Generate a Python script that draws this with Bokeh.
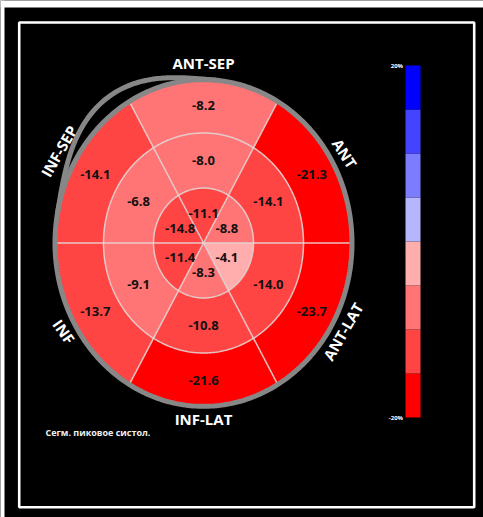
import numpy as np
from bokeh.plotting import figure
from bokeh.models import Range1d, ColumnDataSource
from bokeh.transform import linear_cmap
from bokeh.core.properties import value
from bokeh.embed import file_html
from bokeh.resources import INLINE

# ---------------- data ----------------
sectors = ["ANT-SEP", "ANT", "ANT-LAT", "INF-LAT", "INF", "INF-SEP"]
basal = [-8.2, -21.3, -23.7, -21.6, -13.7, -14.1]
mid = [-8.0, -14.1, -14.0, -10.8, -9.1, -6.8]
apical = [-11.1, -8.8, -4.1, -8.3, -11.4, -14.8]
cb_edges = [-20, -15, -10, -5, 0, 5, 10, 15, 20]
cb_ticks = [20, -20]
cb_tick_labels = ["20%", "-20%"]
palette = ["#ff0000", "#ff4444", "#ff7474", "#ffadad",
           "#b6b6ff", "#7c7cff", "#4444ff", "#0000ff"]
caption = "Сегм. пиковое систол."

# ---------------- figure ----------------
W, H = 483, 517
p = figure(width=W, height=H, x_range=Range1d(0, W), y_range=Range1d(H, 0),
           output_backend="svg", toolbar_location=None,
           x_axis_location=None, y_axis_location=None, min_border=0)
p.background_fill_color = "black"
p.border_fill_color = "black"
p.outline_line_color = None
p.grid.visible = False

# colorbar value scale
p.extra_y_ranges = {"cb": Range1d(start=(241 - H) / 8.8, end=241 / 8.8)}

# white page edges (top / left) and inner white frame
p.quad(left=[0, 0], right=[W, 4], top=[0, 0], bottom=[7, H],
       fill_color="white", line_color=None)
p.quad(left=[18.7], right=[473.7], top=[22], bottom=[506.7],
       fill_color=None, line_color="white", line_width=2.6)

# ---------------- bull's eye geometry ----------------
cx, cy, k = 203.0, 242.5, 1.1
ring_r = [0, 50, 100, 147]
centers = [90, 30, -30, -90, -150, 150]
label_r = [27, 75, 125]


def pt(r, deg):
    t = np.radians(deg)
    return cx + r * np.cos(t), cy - k * r * np.sin(t)


rings = [apical, mid, basal]
xs, ys, vals = [], [], []
for ri, ring_vals in enumerate(rings):
    r0, r1 = ring_r[ri], ring_r[ri + 1]
    for c, v in zip(centers, ring_vals):
        a = np.linspace(c - 30, c + 30, 60)
        ox, oy = pt(r1, a)
        if r0 == 0:
            px = list(ox) + [cx]
            py = list(oy) + [cy]
        else:
            ix, iy = pt(r0, a[::-1])
            px = list(ox) + list(ix)
            py = list(oy) + list(iy)
        xs.append(px)
        ys.append(py)
        vals.append(v)

seg_src = ColumnDataSource(dict(xs=xs, ys=ys, v=vals))
p.patches("xs", "ys", source=seg_src,
          fill_color=linear_cmap("v", palette, -20, 20, low_color=palette[0], high_color=palette[-1]),
          line_color=None)

# boundary lines
full = np.linspace(0, 360, 361)
for r in ring_r[1:3]:
    lx, ly = pt(r, full)
    p.line(lx, ly, line_color="#e6d6d6", line_width=1.5, line_alpha=0.9)
for ang in [0, 60, 120, 180, 240, 300]:
    ex, ey = pt(ring_r[-1], ang)
    p.line([cx, ex], [cy, ey], line_color="#e6d6d6", line_width=1.5, line_alpha=0.9)

# grey outer rim
gx, gy = pt(148.5, full)
p.line(gx, gy, line_color="#878787", line_width=5)
ea = np.linspace(85, 170, 120)
bump = 1 + 0.10 * np.sin(np.pi * (ea - 85) / 85) ** 2
bx = cx + 148.5 * bump * np.cos(np.radians(ea))
by = cy - k * 148.5 * bump * np.sin(np.radians(ea))
p.line(bx, by, line_color="#878787", line_width=5)

# value labels
tx, ty, tt = [], [], []
for ri, ring_vals in enumerate(rings):
    for c, v in zip(centers, ring_vals):
        x, y = pt(label_r[ri], c)
        tx.append(x)
        ty.append(y)
        tt.append(f"{v:.1f}")
p.text(tx, ty, text=tt, text_align="center", text_baseline="middle",
       text_font=value("Open Sans"), text_font_style="bold", text_font_size="13px",
       text_color="#111111")

# sector names around
name_angles = [0, -57, 60, 0, -55, 60]
name_r = [164, 163, 161, 160, 161, 167]
nx, ny = [], []
for c, r in zip(centers, name_r):
    x, y = pt(r, c)
    nx.append(x)
    ny.append(y)
p.text(nx, ny, text=sectors, angle=name_angles, angle_units="deg",
       text_align="center", text_baseline="middle",
       text_font=value("Open Sans"), text_font_style="bold", text_font_size="15px",
       text_color="white")

# caption
p.text([45], [432], text=[caption], text_align="left", text_baseline="middle",
       text_font=value("Open Sans"), text_font_style="bold", text_font_size="9px",
       text_color="#f0f0f0")

# ---------------- colorbar ----------------
p.quad(left=405, right=420, bottom=cb_edges[:-1], top=cb_edges[1:],
       fill_color=palette, line_color=None, y_range_name="cb")
p.text([402.5] * len(cb_ticks), cb_ticks, text=cb_tick_labels, y_range_name="cb",
       text_align="right", text_baseline="middle",
       text_font=value("Open Sans"), text_font_style="bold", text_font_size="6px",
       text_color="white")

open("out.html", "w").write(file_html(p, INLINE))
